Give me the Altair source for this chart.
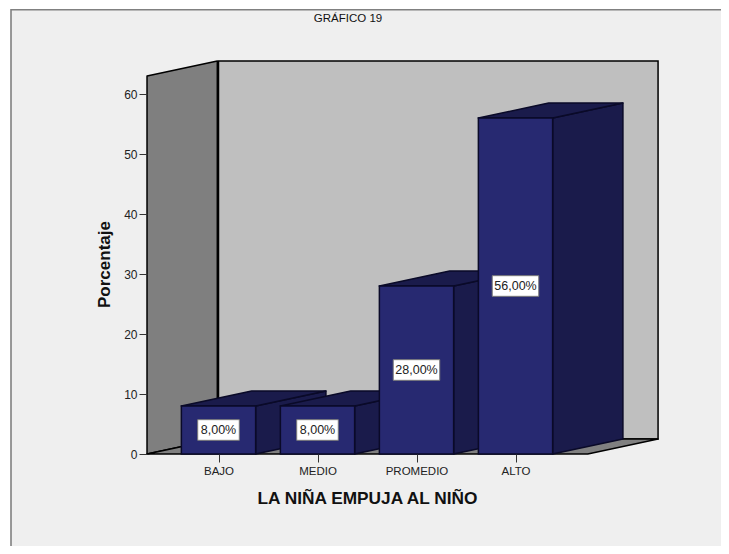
import altair as alt
import pandas as pd

categories = ["BAJO", "MEDIO", "PROMEDIO", "ALTO"]
values = [8.0, 8.0, 28.0, 56.0]
labels = ["8,00%", "8,00%", "28,00%", "56,00%"]
y_ticks = [0, 10, 20, 30, 40, 50, 60]

W, H = 713, 538
PX = 99.0
PY = 6.0
X_DOM = [(8 - 218.5) / PX, (721 - 218.5) / PX]
Y_DOM = [(454 - 546) / PY, (454 - 8) / PY]
HALF = 0.375
DX, DY = 0.71, 2.5
LEFT, RIGHT, WALL = -0.722, 3.73, 63.0
EDGE = "#0a0a28"

x_s = alt.Scale(domain=X_DOM, nice=False, zero=False)
y_s = alt.Scale(domain=Y_DOM, nice=False, zero=False)
x_axis = alt.Axis(
    orient="bottom", offset=-92, values=[0, 1, 2, 3],
    labelExpr="[" + ",".join(f"'{c}'" for c in categories) + "][datum.value]",
    grid=False, domain=False, tickSize=8, tickColor="#333", labelColor="#222",
    labelFont="Liberation Sans", labelFontSize=11.5, labelPadding=3, labelFlush=False,
    labelOverlap=False, zindex=1, title="LA NIÑA EMPUJA AL NIÑO", titleFont="Liberation Sans",
    titleFontSize=17.3, titleFontWeight="bold", titleColor="#111", titleX=359, titleY=44,
    titleAnchor="middle", titleAlign="center", titleBaseline="middle")
y_axis = alt.Axis(
    orient="left", offset=-139, values=y_ticks, grid=False, domain=False, tickSize=8,
    tickColor="#333", labelColor="#222", labelFont="Liberation Sans", labelFontSize=12,
    labelPadding=2, labelFlush=False, labelOverlap=False, zindex=1, title="Porcentaje",
    titleFont="Liberation Sans", titleFontSize=17, titleFontWeight="bold", titleColor="#111",
    titleX=-43, titleY=256, titleAngle=270, titleAlign="center", titleBaseline="middle")
X = alt.X("x:Q", scale=x_s, axis=x_axis)
Y = alt.Y("y:Q", scale=y_s, axis=y_axis)
Y2 = alt.Y2("y2:Q")
X2 = alt.X2("x2:Q")


def area(points, fill, stroke="black", sw=1.5):
    df = pd.DataFrame(points, columns=["x", "y", "y2"])
    return alt.Chart(df).mark_area(fill=fill, stroke=stroke, strokeWidth=sw, strokeJoin="round").encode(x=X, y=Y, y2=Y2)


def rect(x, x2, y, y2, fill, stroke="black", sw=1.5):
    df = pd.DataFrame([{"x": x, "x2": x2, "y": y, "y2": y2}])
    return alt.Chart(df).mark_rect(fill=fill, stroke=stroke, strokeWidth=sw).encode(x=X, x2=X2, y=Y, y2=Y2)


frame = rect(X_DOM[0] + 3 / PX, X_DOM[1] + 0.2, Y_DOM[0] - 2, Y_DOM[1] - 1.8 / PY, "#efefef", "#808080", 1.6)
back = rect(0.0, RIGHT + DX, DY, WALL + DY, "#bfbfbf")
left = area([(LEFT, 0, WALL), (LEFT + DX, DY, WALL + DY)], "#7f7f7f")
floor = area([(LEFT, 0, 0), (LEFT + DX, 0, DY), (RIGHT, 0, DY), (RIGHT + DX, DY, DY)], "#808080")

layers = [frame, back, left, floor]
for i, v in enumerate(values):
    x0, x1 = i - HALF, i + HALF
    layers.append(area([(x1, 0, v), (x1 + DX, DY, v + DY)], "#1a1b4b", EDGE))
    layers.append(area([(x0, v, v), (x0 + DX, v, v + DY), (x1, v, v + DY), (x1 + DX, v + DY, v + DY)], "#1a1b4b", EDGE))
    layers.append(rect(x0, x1, 0, v, "#272971", EDGE))
    yc = v / 2
    box_w = 0.21 if v < 10 else 0.235
    layers.append(rect(i - box_w, i + box_w, yc - 1.72, yc + 1.72, "white", "#7a7a7a", 1))
    txt = pd.DataFrame([{"x": i, "y": yc, "t": labels[i]}])
    layers.append(alt.Chart(txt).mark_text(font="Liberation Sans", fontSize=12.5, color="#222").encode(x=X, y=Y, text="t:N"))

title_df = pd.DataFrame([{"x": (348 - 218.5) / PX, "t": "GRÁFICO 19"}])
layers.append(alt.Chart(title_df).mark_text(font="Liberation Sans", fontSize=11.5, color="#111", baseline="middle").encode(
    x=X, y=alt.value(11), text="t:N"))

chart = alt.layer(*layers).properties(
    width=W, height=H, padding=0, autosize=alt.AutoSizeParams(type="none"), background="white"
).configure_view(stroke=None)

chart.save("out.html", embed_options={"renderer": "svg", "actions": False})
